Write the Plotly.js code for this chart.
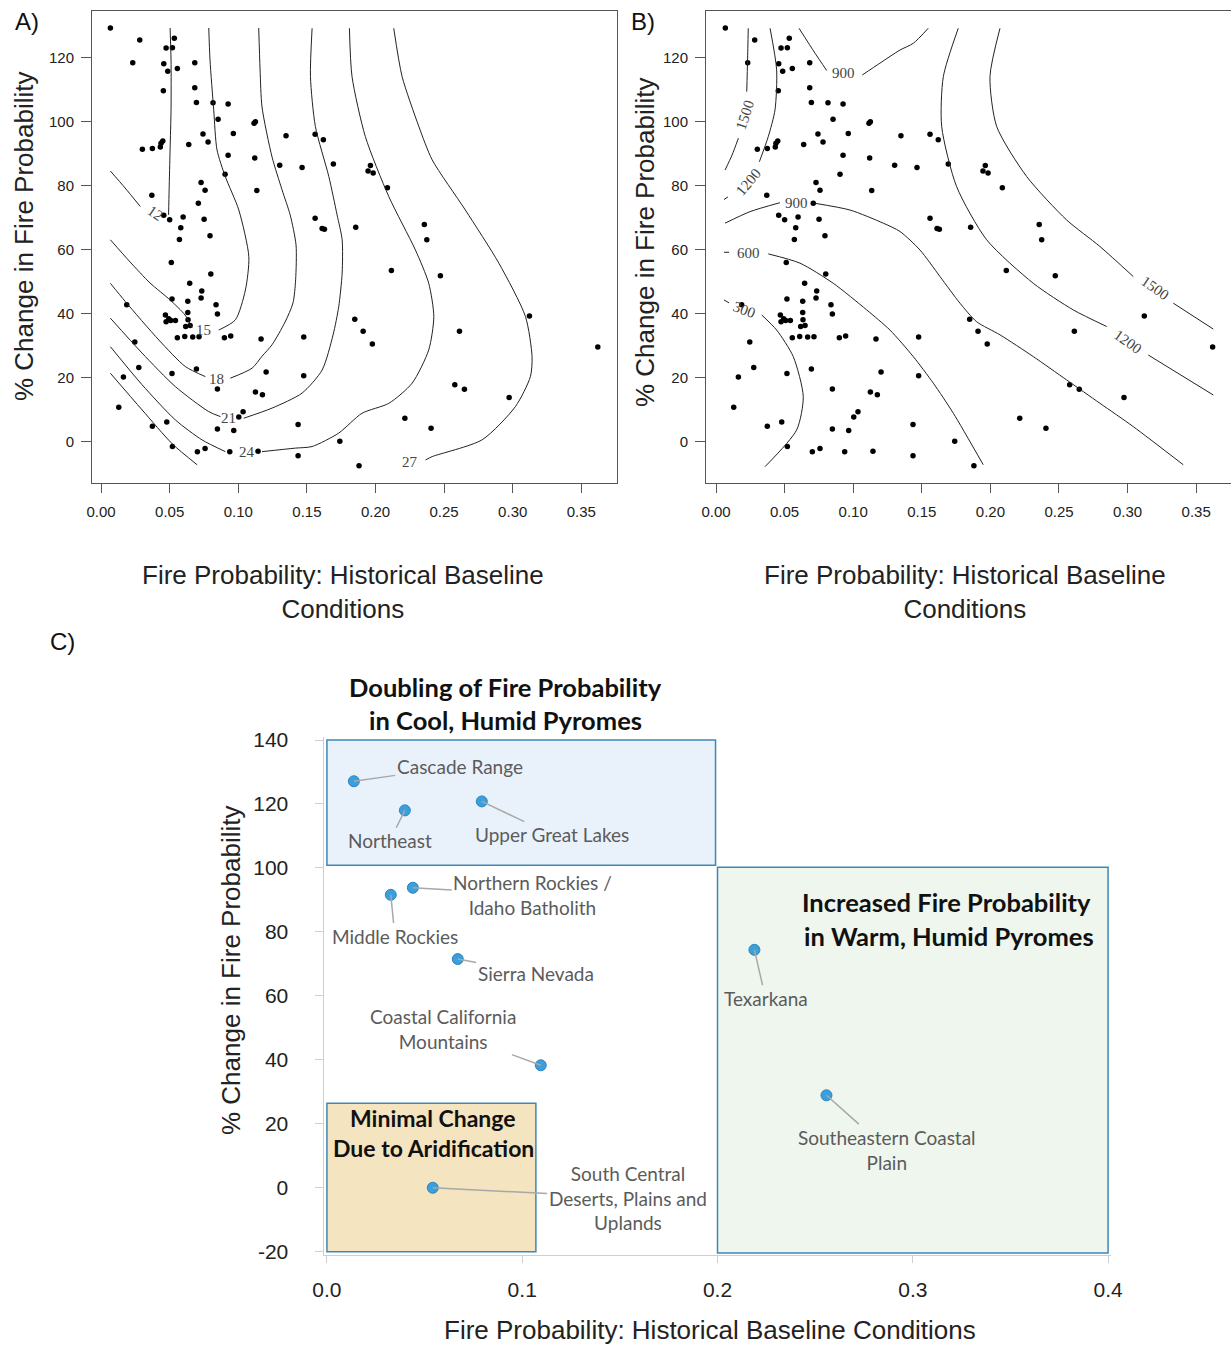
<!DOCTYPE html>
<html><head><meta charset="utf-8">
<script src="https://cdn.plot.ly/plotly-3.0.1.min.js"></script>
<style>body{margin:0;background:#fff}#chart{width:1231px;height:1345px}</style>
</head><body><div id="chart"></div>
<script>
// ---------- Panels A & B : pyrome scatter ----------
const fireBaseline = [0.0068,0.0282,0.0534,0.0474,0.0520,0.0231,0.0457,0.0486,0.0556,0.0683,
0.0454,0.0683,0.0695,0.0816,0.0926,0.0853,0.1125,0.1115,0.0743,0.0964,
0.0780,0.0450,0.0437,0.0432,0.0301,0.0374,0.0639,0.0926,0.1120,0.0904,
0.0729,0.0758,0.1135,0.0370,0.0709,0.0457,0.0500,0.0598,0.0751,0.0581,
0.0794,0.0571,0.0512,0.0800,0.0646,0.0734,0.0729,0.0517,0.0632,0.0838,
0.0187,0.0848,0.0632,0.0469,0.0493,0.0474,0.0508,0.0542,0.0634,0.0617,
0.0649,0.0556,0.0610,0.0668,0.0714,0.0899,0.0945,0.1166,0.0246,0.0275,
0.0695,0.0163,0.0517,0.1203,0.0848,0.1125,0.1176,0.0129,0.1035,0.1004,
0.0374,0.0479,0.0848,0.0967,0.0520,0.0702,0.0758,0.0938,0.1144,0.1348,
0.1560,0.1620,0.1302,0.1465,0.1693,0.1963,0.1946,0.1983,0.2087,0.1560,
0.1611,0.1628,0.1856,0.2356,0.2374,0.2116,0.2473,0.1477,0.1849,0.1910,
0.1977,0.1477,0.1436,0.1740,0.1436,0.1880,0.2214,0.2405,0.3122,0.2612,
0.3620,0.2578,0.2648,0.2974];
const fireChange = [129.2,125.4,126.0,122.9,123.0,118.3,118.0,115.7,116.5,118.3,
109.6,110.5,105.9,105.8,105.4,100.7,99.9,99.4,96.1,96.2,
93.6,93.9,93.2,92.0,91.3,91.5,92.8,89.4,88.6,83.5,
80.9,78.5,78.4,76.9,74.4,70.7,69.3,70.1,69.4,66.8,
64.3,63.1,55.9,52.3,49.4,47.0,44.8,44.5,43.8,42.7,
42.7,39.8,40.3,39.5,38.3,37.4,37.8,37.8,38.0,35.9,
36.2,32.4,32.8,32.6,32.7,32.4,32.9,32.0,31.1,23.1,
22.6,20.1,21.2,21.7,16.4,15.4,14.6,10.7,9.3,7.6,
4.75,6.1,3.9,3.4,-1.6,-3.2,-2.25,-3.2,-3.1,95.5,
96.0,94.3,86.3,85.6,86.7,86.2,84.5,83.9,79.3,69.75,
66.5,66.3,66.9,67.75,63.0,53.4,51.8,32.6,38.2,34.4,
30.4,20.5,5.25,0.06,-4.5,-7.6,7.25,4.1,39.2,34.4,
29.5,17.7,16.3,13.7];

// Panel A contour lines (segments separated by null)
const contA12x = [0.0068,0.0175,0.0286,null,0.0492,0.0496,0.0503,0.0510,0.0510,0.0503];
const contA12y = [84.5,79.2,73.4,null,70.8,78.6,91.1,103.6,119.2,129.2];
const contA15x = [0.0068,0.0211,0.0357,0.0503,0.0612,0.0663,null,0.0858,0.0979,0.1052,0.1077,0.1004,0.0906,0.0845,0.0821,0.0794,0.0785];
const contA15y = [63.0,56.1,49.5,44.2,39.5,35.5,null,34.8,38.0,47.3,57.7,72.3,82.7,91.1,103.6,119.2,129.2];
const contA18x = [0.0068,0.0177,0.0421,0.0614,0.0760,null,0.0942,0.1101,0.1173,0.1246,0.1341,0.1399,0.1418,0.1421,0.1378,0.1319,0.1246,0.1173,0.1159,0.1149];
const contA18y = [49.4,43.7,31.7,23.4,20.25,null,19.75,22.9,26.6,30.2,37.3,43.3,50.5,61.4,70.8,78.6,88.9,104.5,116.1,129.2];
const contA21x = [0.0068,0.0299,0.0542,0.0785,0.0870,null,0.1040,0.1246,0.1465,0.1611,0.1691,0.1732,0.1757,0.1757,0.1720,0.1660,0.1562,0.1526,0.1538];
const contA21y = [38.5,27.6,17.1,9.3,7.75,null,7.25,10.4,15.1,22.3,33.3,42.1,52.6,63.0,70.8,82.75,98.4,114.0,129.1];
const contA24x = [0.0068,0.0299,0.0542,0.0736,0.0906,null,0.1173,0.1416,0.1538,0.1732,0.1902,0.2097,0.2267,0.2388,0.2425,0.2388,0.2291,0.2097,0.1926,0.1829,0.1810];
const contA24y = [29.6,17.7,6.7,0.47,-3.2,null,-3.2,-2.1,-1.6,2.6,8.8,11.9,18.2,28.6,39.0,49.4,59.8,76.5,95.25,114.0,129.1];
const contA27x = [0.0068,0.0300,0.0520,0.0700,null,0.2364,0.2413,0.2777,0.3020,0.3129,0.3141,0.3093,0.2899,0.2655,0.2413,0.2316,0.2194,0.2133];
const contA27y = [21.3,9.8,-0.8,-7.3,null,-5.8,-4.75,0.5,10.9,20.25,26.5,39.0,55.7,72.3,88.0,98.4,114.0,129.1];
const contALevels = ['12','15','18','21','24','27'];
const contALabelX = [0.0394,0.0749,0.0840,0.0931,0.1064,0.2252];
const contALabelY = [71.4,34.8,19.4,7.25,-3.4,-6.4];
const contALabelAngle = [35,0,0,0,0,0];

// Panel B contour lines
const contB1500Lx = [0.0235,0.0230,0.0224,null,0.0163,0.0117,0.0066];
const contB1500Ly = [129.1,119.2,109.3,null,94.75,89.5,84.8];
const contB1200Lx = [0.0394,0.0442,0.0430,0.0381,0.0316,null,0.0058,0.0087];
const contB1200Ly = [129.1,116.1,103.6,95.25,87.4,null,75.6,76.4];
const contB900Tx = [0.0605,0.0722,0.0807,null,0.1066,0.1195,0.1341,0.1438,0.1547];
const contB900Ty = [129.1,121.3,115.9,null,114.5,118.2,122.3,124.4,129.1];
const contB900Mx = [0.0066,0.0248,0.0466,null,0.0722,0.0977,0.1219,0.1341,0.1487,0.1633,0.1778,0.1900,0.2070,0.2313,0.2556,0.2799,0.3042,0.3406];
const contB900My = [68.2,71.8,74.6,null,74.4,72.3,68.2,65.6,59.8,51.5,43.2,37.4,33.3,26.5,19.2,11.9,4.6,-7.3];
const contB600x = [0.0058,0.0095,null,0.0381,0.0612,0.0855,0.1098,0.1268,0.1438,0.1584,0.1730,0.1948];
const contB600y = [59.1,59.1,null,58.6,55.7,49.4,41.1,34.8,26.5,18.2,8.8,-7.3];
const contB300x = [0.0058,0.0095,null,0.0333,0.0442,0.0563,0.0636,0.0588,0.0357];
const contB300y = [44.2,43.3,null,39.5,34.8,26.5,14.0,3.6,-7.9];
const contB1500Rx = [0.2070,0.1997,0.2046,0.2265,0.2556,0.2799,0.3042,null,0.3333,0.3625];
const contB1500Ry = [129.1,114.0,98.4,82.75,69.2,60.9,51.5,null,43.2,35.1];
const contB1200Rx = [0.1766,0.1657,0.1645,0.1754,0.1973,0.2313,0.2604,0.2848,null,0.3151,0.3625];
const contB1200Ry = [129.1,114.0,98.4,79.6,63.0,49.4,41.1,35.9,null,27.0,14.5];
const contBLevels = ['1500','1200','900','900','600','300','1500','1200'];
const contBLabelX = [0.0211,0.0235,0.0928,0.0588,0.0235,0.0211,0.3200,0.3005];
const contBLabelY = [102.0,81.2,115.1,74.4,58.8,41.1,47.9,31.2];
const contBLabelAngle = [-72,-50,0,0,0,20,35,35];

const abTickVals = [0,0.05,0.10,0.15,0.20,0.25,0.30,0.35];
const abTickText = ['0.00','0.05','0.10','0.15','0.20','0.25','0.30','0.35'];
const abYTicks = [0,20,40,60,80,100,120];

// ---------- Panel C : named pyromes ----------
const pyromes = ['Cascade Range','Northeast','Upper Great Lakes','Middle Rockies','Northern Rockies /<br>Idaho Batholith','Sierra Nevada','Coastal California<br>Mountains','South Central<br>Deserts, Plains and<br>Uplands','Texarkana','Southeastern Coastal<br>Plain'];
const pyromeBaseline = [0.0138,0.0399,0.0793,0.0327,0.0440,0.0670,0.1095,0.0542,0.2189,0.2558];
const pyromeChange = [127.1,118.0,120.8,91.6,93.8,71.5,38.3,0.0,74.4,28.9];
const pyromeLabelX = [0.0680,0.0322,0.1151,0.0348,0.1054,0.1069,0.0593,0.1540,0.2246,0.2870];
const pyromeLabelY = [131.8,108.5,110.4,78.7,91.6,67.1,49.6,-3.1,59.3,11.9];
const cTickX = [0,0.1,0.2,0.3,0.4];
const cTickXText = ['0.0','0.1','0.2','0.3','0.4'];
const cTickY = [-20,0,20,40,60,80,100,120,140];
const cTickYText = ['-20','0','20','40','60','80','100','120','140'];

const W = 1231, H = 1345;
const px = v => v / W, py = v => 1 - v / H;

const lineStyle = {color:'#222', width:1, shape:'spline', smoothing:0.7};
const traces = [];
traces.push({x:fireBaseline, y:fireChange, xaxis:'x', yaxis:'y', mode:'markers', marker:{size:5.5, color:'#000'}, hoverinfo:'skip'});
traces.push({x:fireBaseline, y:fireChange, xaxis:'x2', yaxis:'y2', mode:'markers', marker:{size:5.5, color:'#000'}, hoverinfo:'skip'});
[[contA12x,contA12y],[contA15x,contA15y],[contA18x,contA18y],[contA21x,contA21y],[contA24x,contA24y],[contA27x,contA27y]].forEach(c=>{
  traces.push({x:c[0], y:c[1], xaxis:'x', yaxis:'y', mode:'lines', line:lineStyle, connectgaps:false, hoverinfo:'skip'});
});
[[contB1500Lx,contB1500Ly],[contB1200Lx,contB1200Ly],[contB900Tx,contB900Ty],[contB900Mx,contB900My],[contB600x,contB600y],[contB300x,contB300y],[contB1500Rx,contB1500Ry],[contB1200Rx,contB1200Ry]].forEach(c=>{
  traces.push({x:c[0], y:c[1], xaxis:'x2', yaxis:'y2', mode:'lines', line:lineStyle, connectgaps:false, hoverinfo:'skip'});
});
traces.push({x:pyromeBaseline, y:pyromeChange, xaxis:'x3', yaxis:'y3', mode:'markers',
  marker:{size:11, color:'#3a9fda', line:{color:'#2a86c2', width:1}}, hoverinfo:'skip', cliponaxis:false});

const tickFontAB = {family:'Liberation Sans, Arial, sans-serif', size:15, color:'#222'};
function abX(domain, range){
  return {domain, range, tickvals:abTickVals, ticktext:abTickText, ticks:'outside', ticklen:9, tickcolor:'#555',
    showline:true, linecolor:'#555', linewidth:1, mirror:true, showgrid:false, zeroline:false, tickfont:tickFontAB, ticklabelstandoff:6};
}
function abY(domain, anchor){
  return {domain, range:[-13.0,134.5], anchor, tickvals:abYTicks, ticks:'outside', ticklen:10, tickcolor:'#555',
    showline:true, linecolor:'#555', linewidth:1, mirror:true, showgrid:false, zeroline:false, tickfont:tickFontAB, ticklabelstandoff:4};
}
const yDomAB = [py(483), py(11)];

const annotations = [];
function paperText(x, y, text, font, angle){
  annotations.push({xref:'paper', yref:'paper', x:px(x), y:py(y), xanchor:'center', yanchor:'middle',
    text, showarrow:false, font, textangle:angle||0});
}
const titleFont = {family:'Liberation Sans, Arial, sans-serif', size:26, color:'#222'};
const letterFont = {family:'Liberation Sans, Arial, sans-serif', size:24, color:'#111'};
paperText(27, 22, 'A)', letterFont);
paperText(643, 22, 'B)', letterFont);
paperText(62, 641, 'C)', letterFont);
paperText(343, 592, 'Fire Probability: Historical Baseline<br>Conditions', titleFont);
paperText(965, 592, 'Fire Probability: Historical Baseline<br>Conditions', titleFont);
paperText(24, 236, '% Change in Fire Probability', titleFont, -90);
paperText(645, 242, '% Change in Fire Probability', titleFont, -90);
paperText(710, 1330, 'Fire Probability: Historical Baseline Conditions', titleFont);
paperText(231, 970, '% Change in Fire Probability', titleFont, -90);
// contour labels
const contFont = {family:'Liberation Serif, DejaVu Serif, serif', size:15, color:'#444'};
contALevels.forEach((t,i)=>annotations.push({xref:'x', yref:'y', x:contALabelX[i], y:contALabelY[i], xanchor:'center', yanchor:'middle', text:t, textangle:contALabelAngle[i], showarrow:false, font:contFont}));
contBLevels.forEach((t,i)=>annotations.push({xref:'x2', yref:'y2', x:contBLabelX[i], y:contBLabelY[i], xanchor:'center', yanchor:'middle', text:t, textangle:contBLabelAngle[i], showarrow:false, font:contFont}));
// panel C point labels
const labFont = {family:'Lato, Noto Sans, sans-serif', size:19, color:'#5b5b5b'};
pyromes.forEach((t,i)=>annotations.push({xref:'x3', yref:'y3', x:pyromeBaseline[i], y:pyromeChange[i],
  axref:'x3', ayref:'y3', ax:pyromeLabelX[i], ay:pyromeLabelY[i], text:t, showarrow:true, arrowhead:0,
  arrowwidth:1.5, arrowcolor:'#a8a8a8', standoff:0, font:labFont}));
// panel C box titles
const boldFontBig = {family:'Lato, Noto Sans, sans-serif', size:25.5, color:'#111'};
const boldFont = {family:'Lato, Noto Sans, sans-serif', size:23, color:'#111'};
paperText(505, 687, '<b>Doubling of Fire Probability</b>', boldFontBig);
paperText(505, 720, '<b>in Cool, Humid Pyromes</b>', boldFontBig);
paperText(946, 902, '<b>Increased Fire Probability</b>', boldFontBig);
paperText(949, 936, '<b>in Warm, Humid Pyromes</b>', boldFontBig);
paperText(433, 1118, '<b>Minimal Change</b>', boldFont);
paperText(433, 1148, '<b>Due to Aridification</b>', boldFont);

const shapes = [
  {type:'rect', xref:'x3', yref:'y3', x0:0, x1:0.199, y0:100.8, y1:140, fillcolor:'#e9f2fb', line:{color:'#3f87b9', width:1.5}, layer:'below'},
  {type:'rect', xref:'x3', yref:'y3', x0:0.2, x1:0.4, y0:-20.4, y1:100.2, fillcolor:'#eef6ee', line:{color:'#3f87b9', width:1.5}, layer:'below'},
  {type:'rect', xref:'x3', yref:'y3', x0:0, x1:0.107, y0:-20, y1:26.4, fillcolor:'#f4e4bf', line:{color:'#3f87b9', width:1.5}, layer:'below'}
];

const cTickFont = {family:'Liberation Sans, Arial, sans-serif', size:21, color:'#222'};
const layout = {
  width:W, height:H, margin:{l:0,r:0,t:0,b:0}, paper_bgcolor:'#fff', plot_bgcolor:'rgba(0,0,0,0)', showlegend:false,
  xaxis: Object.assign(abX([px(92),px(617)], [-0.0066,0.376]), {anchor:'y'}),
  yaxis: abY(yDomAB, 'x'),
  xaxis2: Object.assign(abX([px(706),1], [-0.0073,0.3754]), {anchor:'y2'}),
  yaxis2: abY(yDomAB, 'x2'),
  xaxis3: {domain:[px(324),px(1111)], range:[-0.0015,0.4015], anchor:'y3', tickvals:cTickX, ticktext:cTickXText,
    ticks:'outside', ticklen:7, tickcolor:'#cfcfcf', showline:true, linecolor:'#cfcfcf', linewidth:1.5,
    showgrid:false, zeroline:false, tickfont:cTickFont, ticklabelstandoff:8},
  yaxis3: {domain:[py(1254.9),py(736.8)], range:[-21,141], anchor:'x3', tickvals:cTickY, ticktext:cTickYText,
    ticks:'outside', ticklen:8, tickcolor:'#cfcfcf', showline:true, linecolor:'#cfcfcf', linewidth:1.5,
    showgrid:false, zeroline:false, tickfont:cTickFont, ticklabelstandoff:22},
  annotations, shapes
};
Plotly.newPlot('chart', traces, layout, {staticPlot:true, displayModeBar:false});
</script></body></html>
